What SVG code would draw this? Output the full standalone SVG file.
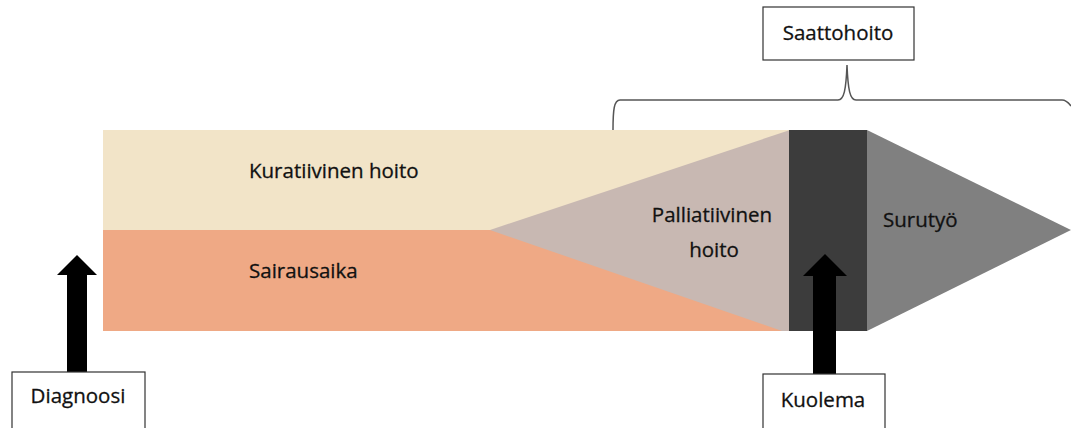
<svg xmlns="http://www.w3.org/2000/svg" width="1071" height="428" viewBox="0 0 1071 428">
<style>
text{font-family:"Open Sans","Liberation Sans",sans-serif;font-size:20.5px;fill:#111;stroke:#111;stroke-width:0.3}
.box{fill:#fff;stroke:#333;stroke-width:1.2}
.arrow{fill:#000}
.brace{fill:none;stroke:#555;stroke-width:1.5}
</style>
<rect width="1071" height="428" fill="#fff"/>
<g id="band">
<rect id="kuratiivinen" x="103" y="130" width="687" height="101" fill="#f2e4c8"/>
<rect id="sairausaika" x="103" y="230" width="687" height="101" fill="#efa985"/>
<polygon id="palliatiivinen" points="490,230 790,130 790,331 782,331" fill="#c8b8b2"/>
<rect id="kuolema-band" x="789" y="130" width="78" height="201" fill="#3c3c3c"/>
<polygon id="surutyo" points="867,130 1071,230 867,331" fill="#808080"/>
</g>
<g id="labels">
<text x="249" y="178">Kuratiivinen hoito</text>
<text x="249" y="278">Sairausaika</text>
<text x="712" y="222" text-anchor="middle">Palliatiivinen</text>
<text x="714" y="257" text-anchor="middle">hoito</text>
<text x="883" y="227">Surutyö</text>
</g>
<g id="connectors">
<path class="brace" d="M613,130 C613,110 614,100 620,100 L838,100 C844,100 846,90 847,65 C848,90 850,100 856,100 L1062,100 C1066,100 1068,102 1071,106"/>
<polygon class="arrow" points="67,372 67,275 57,275 77,255 97,275 87,275 87,372"/>
<polygon class="arrow" points="813,374 813,276 803,276 825,254 847,276 836,276 836,374"/>
</g>
<g id="saattohoito">
<rect class="box" x="763" y="7" width="151" height="53"/>
<text x="838" y="40" text-anchor="middle">Saattohoito</text>
</g>
<g id="diagnoosi">
<rect class="box" x="12" y="372" width="133" height="70"/>
<text x="78" y="403" text-anchor="middle">Diagnoosi</text>
</g>
<g id="kuolema">
<rect class="box" x="763" y="374" width="122" height="70"/>
<text x="823" y="407" text-anchor="middle">Kuolema</text>
</g>
</svg>
